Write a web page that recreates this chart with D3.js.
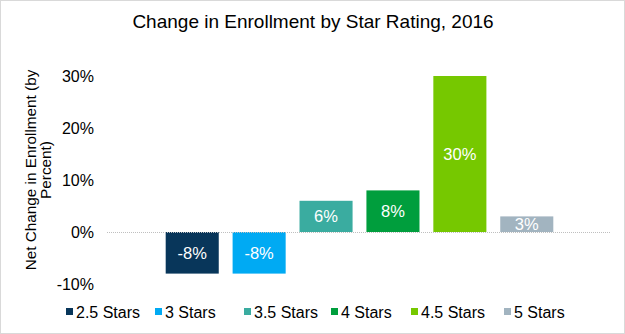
<!DOCTYPE html>
<html>
<head>
<meta charset="utf-8">
<script src="https://cdn.jsdelivr.net/npm/d3@7"></script>
<style>
  html, body { margin: 0; padding: 0; background: #fff; }
  svg { display: block; font-family: "Liberation Sans", Arial, sans-serif; }
</style>
</head>
<body>
<svg id="chart" width="625" height="334"></svg>
<script>
const series = ["2.5 Stars", "3 Stars", "3.5 Stars", "4 Stars", "4.5 Stars", "5 Stars"];
const values = [-8, -8, 6, 8, 30, 3];
const colors = ["#08365a", "#00aaf3", "#3aaca0", "#009e3d", "#76c800", "#a2b4c0"];
const yTicks = [-10, 0, 10, 20, 30];
const title = "Change in Enrollment by Star Rating, 2016";
const yTitle = ["Net Change in Enrollment  (by", "Percent)"];

const svg = d3.select("#chart");
const W = 625, H = 334;

svg.append("rect").attr("x", 0.5).attr("y", 0.5).attr("width", W - 1).attr("height", H - 1)
  .attr("fill", "#fff").attr("stroke", "#d9d9d9");

const plotLeft = 107, plotRight = 610;
const y = d3.scaleLinear().domain([-10, 30]).range([284, 76]);
const x = d3.scaleBand().domain(series).range([159, 560]).paddingInner(0.207).paddingOuter(0.1);

svg.append("text").attr("x", 313).attr("y", 28).attr("text-anchor", "middle")
  .attr("font-size", 19).attr("fill", "#000").text(title);

// y tick labels
svg.append("g").selectAll("text").data(yTicks).join("text")
  .attr("x", 94).attr("y", d => y(d)).attr("dy", "0.35em")
  .attr("text-anchor", "end").attr("font-size", 16).attr("fill", "#000")
  .text(d => d + "%");

// y axis title
const yt = svg.append("text").attr("transform", "translate(0,170) rotate(-90)")
  .attr("text-anchor", "middle").attr("font-size", 15.3).attr("fill", "#000");
yt.selectAll("tspan").data(yTitle).join("tspan")
  .attr("x", 0).attr("y", (d, i) => 36 + i * 14.5).text(d => d);

// bars
svg.append("g").selectAll("rect").data(series).join("rect")
  .attr("x", d => x(d)).attr("width", x.bandwidth())
  .attr("y", (d, i) => y(Math.max(0, values[i])))
  .attr("height", (d, i) => Math.abs(y(values[i]) - y(0)))
  .attr("fill", (d, i) => colors[i]);

// zero line
svg.append("line").attr("x1", plotLeft).attr("x2", plotRight)
  .attr("y1", y(0) + 0.5).attr("y2", y(0) + 0.5)
  .attr("stroke", "#bfbfbf").attr("stroke-width", 1).attr("stroke-dasharray", "1,1");

// labels
svg.append("g").selectAll("text").data(series).join("text")
  .attr("x", d => x(d) + x.bandwidth() / 2)
  .attr("y", (d, i) => (y(values[i]) + y(0)) / 2).attr("dy", "0.35em")
  .attr("text-anchor", "middle").attr("font-size", 16.5).attr("fill", "#fff")
  .text((d, i) => values[i] + "%");

// legend
const legendX = [66, 155, 244, 331, 411, 504];
const lg = svg.append("g").selectAll("g").data(series).join("g")
  .attr("transform", (d, i) => `translate(${legendX[i]},312)`);
lg.append("rect").attr("x", 0).attr("y", -4).attr("width", 7).attr("height", 7)
  .attr("fill", (d, i) => colors[i]);
lg.append("text").attr("x", 10).attr("y", 0).attr("dy", "0.35em")
  .attr("font-size", 16).attr("fill", "#000").text(d => d);
</script>
</body>
</html>
